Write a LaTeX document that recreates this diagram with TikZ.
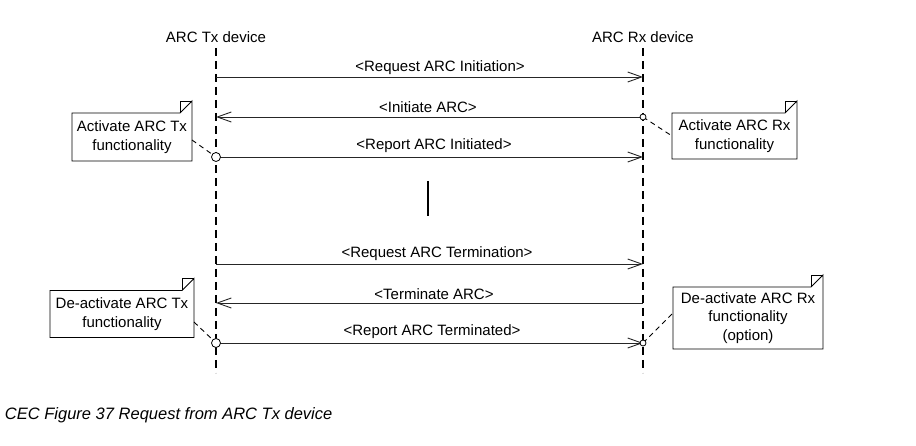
\documentclass[tikz,border=0pt]{standalone}
\usepackage{fontspec}
\setmainfont{Liberation Sans}
\usetikzlibrary{arrows.meta}
\begin{document}
\begin{tikzpicture}[x=1pt,y=-1pt,
  every node/.style={inner sep=0pt,outer sep=0pt},
  lbl/.style={font=\fontsize{15}{18}\selectfont,anchor=center},
  lifeline/.style={line width=1.2pt,dash pattern=on 8pt off 5pt},
  msg/.style={line width=0.9pt,draw=black!85,-{Straight Barb[length=14pt,width=10pt,line width=0.9pt]}},
  conn/.style={line width=0.9pt,dash pattern=on 5pt off 4pt},
  notebox/.style={draw=none,align=center,font=\fontsize{15}{18.5}\selectfont,minimum width=#1},
  notebox/.default=120pt,
  startdot/.style={circle,draw,line width=0.8pt,fill=white,minimum size=#1},
  startdot/.default=9pt,
]
\useasboundingbox (0,0) rectangle (916,446);

% lifeline heads
\node[lbl] (tx) at (216,37) {ARC Tx device};
\node[lbl] (rx) at (643,37) {ARC Rx device};
\coordinate (txtop) at (216,48);
\coordinate (txbot) at (216,373);
\coordinate (rxtop) at (643,48);
\coordinate (rxbot) at (643,373);
\draw[lifeline] (txtop) -- (txbot);
\draw[lifeline] (rxtop) -- (rxbot);

% message anchor points
\foreach \n/\y in {1/77,2/117,3/157,4/264,5/303,6/343}{
  \coordinate (tx\n) at (216,\y);
  \coordinate (rx\n) at (643,\y);
}

% messages
\draw[msg] (tx1) -- (rx1);
\node[lbl] (m1) at (440,68) {<Request ARC Initiation>};
\draw[msg] (rx2) -- (tx2);
\node[lbl] (m2) at (428,107) {<Initiate ARC>};
\draw[msg] (tx3) -- (rx3);
\node[lbl] (m3) at (434,146) {<Report ARC Initiated>};

\coordinate (bara) at (428,181);
\coordinate (barb) at (428,216);
\draw[line width=1.4pt] (bara) -- (barb);

\draw[msg] (tx4) -- (rx4);
\node[lbl] (m4) at (437,254) {<Request ARC Termination>};
\draw[msg] (rx5) -- (tx5);
\node[lbl] (m5) at (434,294) {<Terminate ARC>};
\draw[msg] (tx6) -- (rx6);
\node[lbl] (m6) at (432,332) {<Report ARC Terminated>};

% notes
\node[notebox=120pt,minimum height=48pt] (n1) at (132,137) {Activate ARC Tx\\functionality};
\node[notebox=125pt,minimum height=46pt] (n2) at (734.5,136) {Activate ARC Rx\\functionality};
\node[notebox=144pt,minimum height=47pt] (n3) at (122,314) {De-activate ARC Tx\\functionality};
\node[notebox=150pt,minimum height=62pt] (n4) at (748,318) {De-activate ARC Rx\\functionality\\(option)};

\foreach \n in {n1,n2,n3,n4}{
  \draw[line width=0.9pt]
    (\n.north west) -- ([xshift=-12pt]\n.north east) -- ([yshift=12pt]\n.north east)
    -- (\n.south east) -- (\n.south west) -- cycle;
  \draw[line width=0.8pt]
    ([xshift=-12pt]\n.north east) -- ([xshift=-12pt,yshift=12pt]\n.north east) -- ([yshift=12pt]\n.north east);
}

% note connectors
\coordinate (c1) at (192,140);
\coordinate (c2) at (672,136);
\coordinate (c3) at (194,322);
\coordinate (c4) at (673,313);
\draw[conn] (c1) -- (tx3);
\draw[conn] (rx2) -- (c2);
\draw[conn] (c3) -- (tx6);
\draw[conn] (rx6) -- (c4);

% start dots
\node[startdot=6pt] (d2) at (rx2) {};
\node[startdot=9pt] (d3) at (tx3) {};
\node[startdot=9pt] (d6a) at (tx6) {};
\node[startdot=6pt] (d6b) at (rx6) {};

% caption
\node[anchor=west,font=\itshape\fontsize{16.5}{19}\selectfont] (cap) at (5,415) {CEC Figure 37 Request from ARC Tx device};
\end{tikzpicture}
\end{document}
